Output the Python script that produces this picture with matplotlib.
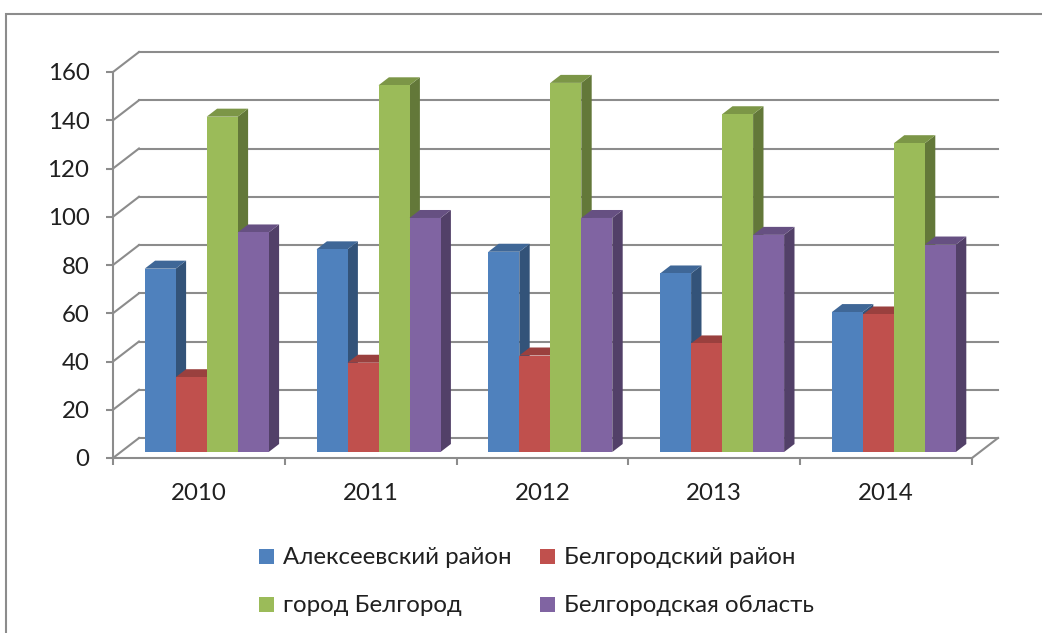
import matplotlib
matplotlib.use("Agg")
import matplotlib.pyplot as plt
from matplotlib.patches import Polygon, Rectangle
from matplotlib.colors import to_rgb

years = ["2010", "2011", "2012", "2013", "2014"]
series_names = ["Алексеевский район", "Белгородский район",
                "город Белгород", "Белгородская область"]
alekseevsky = [76, 84, 83, 74, 58]
belgorod_district = [31, 37, 40, 45, 57]
belgorod_city = [139, 152, 153, 140, 128]
belgorod_oblast = [91, 97, 97, 90, 86]
y_ticks = list(range(0, 161, 20))

series = [alekseevsky, belgorod_district, belgorod_city, belgorod_oblast]
colors = ["#4F81BD", "#C0504D", "#9BBB59", "#8064A2"]
GRID = "#8c8c8c"
TEXT = "#202020"
FS = 17.3

plt.rcParams["font.family"] = ["Lato", "Open Sans", "DejaVu Sans"]

W, H = 1042, 633
fig = plt.figure(figsize=(W / 100, H / 100), dpi=100)

# chart area border (runs off the right and bottom edges)
fig.patches.append(Rectangle((6 / W, -0.1), 1.2, (H - 14) / H + 0.1,
                             transform=fig.transFigure, fill=False,
                             ec=GRID, lw=1.5))

ax = fig.add_axes([113 / W, (H - 458) / H, 859 / W, 386 / H])
ax.set_xlim(0, len(years))
ax.set_ylim(0, 160)

# depth offset of the back wall, in data units
DX = 26 / 171.8
DY = 20 / 2.4125


def proj(x, y, d):
    return (x + d * DX, y + d * DY)


# side wall diagonals and back wall gridlines
for v in y_ticks:
    ax.plot([0, DX], [v, v + DY], color=GRID, lw=1.5, zorder=1, clip_on=False)
    ax.plot([DX, len(years) + DX], [v + DY, v + DY], color=GRID, lw=1.5,
            zorder=1, clip_on=False)
# floor right edge
ax.plot([len(years), len(years) + DX], [0, DY], color=GRID, lw=1.5,
        zorder=1, clip_on=False)


def shade(c, f):
    r, g, b = to_rgb(c)
    return (r * f, g * f, b * f)


# 3-D columns, painted left to right
w = 31 / 171.8
d0, d1 = 0.3, 0.7
z = 3
for j in range(len(years)):
    for k, vals in enumerate(series):
        v = vals[j]
        x0 = j + 0.5 - 2 * w + k * w
        x1 = x0 + w
        c = colors[k]
        side = [proj(x1, 0, d0), proj(x1, 0, d1), proj(x1, v, d1), proj(x1, v, d0)]
        top = [proj(x0, v, d0), proj(x1, v, d0), proj(x1, v, d1), proj(x0, v, d1)]
        front = [proj(x0, 0, d0), proj(x1, 0, d0), proj(x1, v, d0), proj(x0, v, d0)]
        ax.add_patch(Polygon(side, closed=True, fc=shade(c, 0.64), ec="none",
                             zorder=z, clip_on=False))
        ax.add_patch(Polygon(top, closed=True, fc=shade(c, 0.8), ec="none",
                             zorder=z, clip_on=False))
        ax.add_patch(Polygon(front, closed=True, fc=c, ec="none",
                             zorder=z, clip_on=False))
        z += 1

for s in ["top", "right"]:
    ax.spines[s].set_visible(False)
for s in ["left", "bottom"]:
    ax.spines[s].set_color(GRID)
    ax.spines[s].set_linewidth(1.5)
    ax.spines[s].set_zorder(2)

ax.set_yticks(y_ticks)
ax.set_yticklabels([str(t) for t in y_ticks])
ax.tick_params(axis="y", direction="out", length=5, width=1.5, color=GRID,
               pad=12, labelsize=FS, labelcolor=TEXT)
ax.set_xticks(range(len(years) + 1))
ax.set_xticklabels([])
ax.set_xticks([j + 0.5 for j in range(len(years))], minor=True)
ax.set_xticklabels(years, minor=True)
ax.tick_params(axis="x", which="major", direction="out", length=5, width=1.5,
               color=GRID)
ax.tick_params(axis="x", which="minor", length=0, pad=18, labelsize=FS,
               labelcolor=TEXT)
ax.set_facecolor("none")

# legend: two rows of two entries
legend_slots = [(259, 564), (540, 564), (259, 612), (540, 612)]
for (px, py), name, c in zip(legend_slots, series_names, colors):
    fig.patches.append(Rectangle((px / W, (H - py) / H), 15 / W, 15 / H,
                                 transform=fig.transFigure, fc=c, ec="none"))
    fig.text((px + 24) / W, (H - py) / H, name, fontsize=FS, color=TEXT,
             ha="left", va="baseline")

fig.savefig("out.png", dpi=100)
